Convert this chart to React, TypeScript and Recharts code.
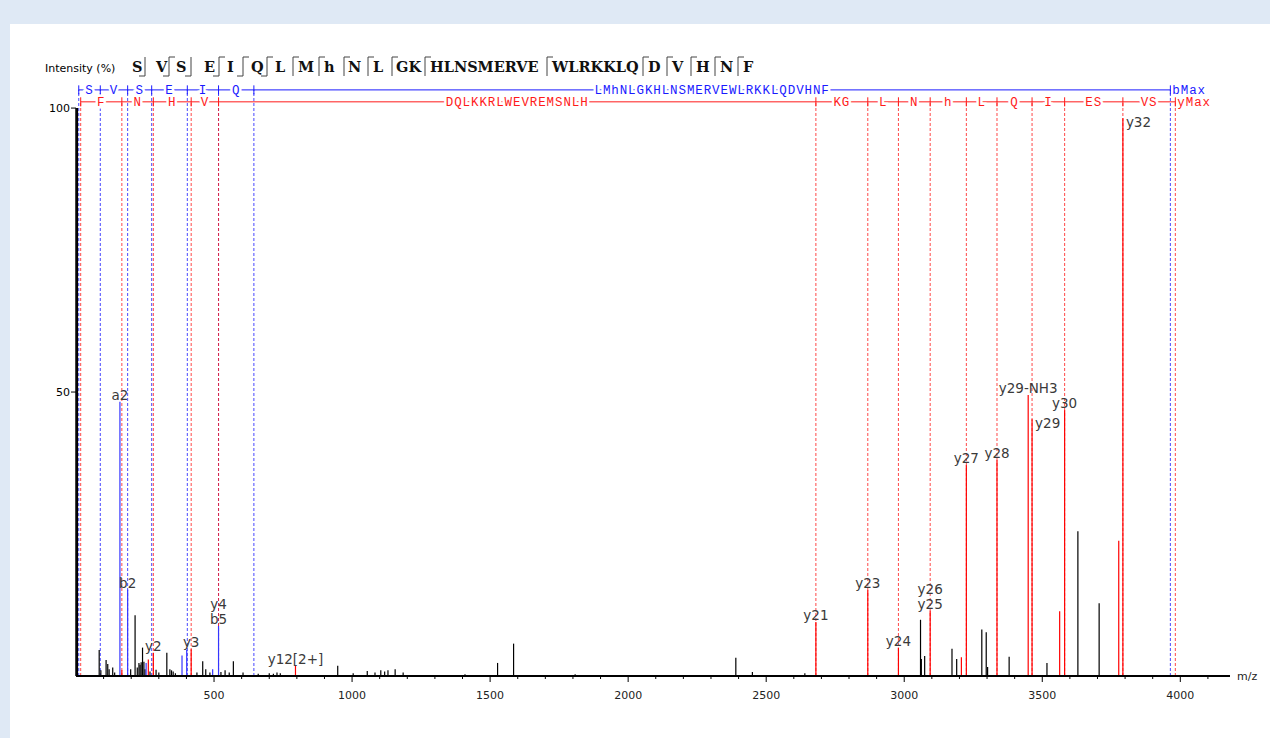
import { ComposedChart, XAxis, YAxis, ReferenceLine, ReferenceDot, Scatter } from "recharts"

// peaks: [m/z, intensity %]
const otherPeaks: [number, number][] = [
    [4, 100], [84, 4.6], [90, 1.0], [109, 2.8], [115, 2.1], [120, 1.2], [133, 1.5], [140, 0.6],
    [198, 1.2], [214, 10.7], [222, 1.5], [228, 2.3], [232, 2.0], [236, 2.4], [241, 5.0], [246, 2.5],
    [250, 1.2], [268, 0.8], [290, 1.1], [300, 0.6], [329, 4.1], [340, 1.2], [346, 1.0], [352, 0.8],
    [360, 0.5], [438, 0.6], [459, 2.6], [470, 1.2], [485, 0.6], [525, 0.7], [540, 1.0], [555, 0.6],
    [570, 2.6], [605, 0.6], [660, 0.4], [700, 0.5], [715, 0.4], [728, 0.6], [740, 0.5], [948, 1.8],
    [1004, 0.5], [1055, 0.9], [1083, 0.6], [1104, 1.0], [1118, 0.8], [1130, 1.0], [1156, 1.2],
    [1185, 0.6], [1409, 0.3], [1527, 2.3], [1585, 5.7], [1808, 0.3], [2390, 3.2], [2450, 0.7],
    [2640, 0.5], [3059, 9.9], [3062, 3.0], [3074, 3.5], [3173, 4.8], [3190, 3.0], [3281, 8.2],
    [3297, 7.7], [3302, 1.6], [3380, 3.4], [3517, 2.3], [3629, 25.5], [3706, 12.8],
]

const bIonPeaks: [number, number][] = [
    [159.1, 48.3], [187.1, 15.2], [254, 2.3], [384, 3.6], [401, 4.6], [495, 1.2], [516.3, 8.8],
]

const yIonPeaks: [number, number][] = [
    [166.1, 1.0], [262, 2.9], [280.1, 4.1], [417.2, 4.7], [795, 1.8], [2680, 9.5], [2868, 15.1],
    [2979, 5.0], [3094, 11.5], [3207, 3.3], [3225, 37.1], [3336, 38.0], [3449, 49.5], [3463, 45.2],
    [3563, 11.4], [3581, 46.8], [3777, 23.8], [3792, 98.2],
]

// annotations: [m/z, intensity, text, placement]
const peakLabels: [number, number, string, string][] = [
    [159.1, 48.3, 'a2', 'top'],
    [187.1, 15.2, 'b2', 'top'],
    [280.1, 4.1, 'y2', 'top'],
    [417.2, 4.7, 'y3', 'top'],
    [516.3, 8.8, 'b5', 'top'],
    [516.3, 8.8, 'y4', 'top2'],
    [795, 1.8, 'y12[2+]', 'top'],
    [2680, 9.5, 'y21', 'top'],
    [2868, 15.1, 'y23', 'top'],
    [2979, 5.0, 'y24', 'top'],
    [3094, 11.5, 'y25', 'top'],
    [3094, 11.5, 'y26', 'top2'],
    [3225, 37.1, 'y27', 'top'],
    [3336, 38.0, 'y28', 'top'],
    [3449, 49.5, 'y29-NH3', 'top'],
    [3463, 45.2, 'y29', 'right'],
    [3581, 46.8, 'y30', 'top'],
    [3792, 98.2, 'y32', 'right'],
]

// fragment ladders
const bLadderMz = [10, 88.0, 187.1, 274.1, 403.2, 516.3, 644.3, 3964]
const bLadderRes = ['S', 'V', 'S', 'E', 'I', 'Q', 'LMhNLGKHLNSMERVEWLRKKLQDVHNF']
const yLadderMz = [17, 166.1, 280.1, 417.2, 516.3, 2680, 2868, 2979, 3094, 3225, 3336, 3463, 3581, 3792, 3982]
const yLadderRes = ['F', 'N', 'H', 'V', 'DQLKKRLWEVREMSNLH', 'KG', 'L', 'N', 'h', 'L', 'Q', 'I', 'ES', 'VS']

// sequence header and cleavage marks after each group
const seqGroups = ['S', 'V', 'S', 'E', 'I', 'Q', 'L', 'M', 'h', 'N', 'L', 'GK', 'HLNSMERVE', 'WLRKKLQ', 'D', 'V', 'H', 'N', 'F']
const seqMarks = ['b', 'by', 'b', 'by', 'by', 'by', 'y', 'y', 'y', 'y', 'y', 'y', 'y', 'y', 'y', 'y', 'y', 'y']

const xTicks = [100, 200, 300, 400, 500, 600, 700, 800, 900, 1000, 1100, 1200, 1300, 1400, 1500, 1600,
    1700, 1800, 1900, 2000, 2100, 2200, 2300, 2400, 2500, 2600, 2700, 2800, 2900, 3000, 3100, 3200,
    3300, 3400, 3500, 3600, 3700, 3800, 3900, 4000, 4100]
const majorTicks = [500, 1000, 1500, 2000, 2500, 3000, 3500, 4000]

const BLUE = "#1a1aff"
const RED = "#ff1a1a"
const B_ROW = 103.2
const Y_ROW = 101.1
const SANS = "DejaVu Sans"
const MONO = "Liberation Mono"

// header layout (px): group starts and mark positions
const seqX = [132, 156, 176, 204, 227, 251, 275, 298, 324, 348, 373, 396, 430, 552, 648, 672, 696, 720, 743]
const markX = [145, 169, 191, 219, 243, 267, 293, 319, 344, 368, 392, 425, 547, 643, 667, 691, 715, 738]

function XTick(props: any) {
    const { x, y, payload } = props
    const major = majorTicks.includes(payload.value)
    return (
        <g>
            <line x1={x} x2={x} y1={y} y2={y + (major ? 6 : 3)} stroke="#000" />
            {major && (
                <text x={x} y={y + 23} textAnchor="middle" fontSize={11} fill="#222" fontFamily={SANS}>
                    {payload.value}
                </text>
            )}
        </g>
    )
}

function peakLine(p: [number, number], color: string, key: string, w = 1.2) {
    return (
        <ReferenceLine key={key} segment={[{ x: p[0], y: 0 }, { x: p[0], y: p[1] }]} stroke={color} strokeWidth={w} />
    )
}

function ladder(mz: number[], res: string[], row: number, color: string, tag: string, maxText: string) {
    const out: any[] = []
    out.push(
        <ReferenceLine key={tag + "h"} segment={[{ x: mz[0], y: row }, { x: mz[mz.length - 1], y: row }]} stroke={color} strokeWidth={1} />
    )
    mz.forEach((m, i) => {
        out.push(
            <ReferenceLine key={tag + "d" + i} segment={[{ x: m, y: 0 }, { x: m, y: row }]} stroke={color} strokeOpacity={0.8} strokeDasharray="3 2" strokeWidth={1} />
        )
        out.push(
            <ReferenceLine key={tag + "t" + i} segment={[{ x: m, y: row - 0.8 }, { x: m, y: row + 0.8 }]} stroke={color} strokeWidth={1} />
        )
    })
    res.forEach((r, i) => {
        out.push(
            <ReferenceDot key={tag + "r" + i} x={(mz[i] + mz[i + 1]) / 2} y={row} r={0}
                shape={(p: any) => (
                    <text x={p.cx} y={p.cy + 4} textAnchor="middle" fontSize={12.5} letterSpacing={0.9} fontFamily={MONO} fill={color}
                        stroke="#fff" strokeWidth={5} style={{ paintOrder: "stroke" }}>{r}</text>
                )} />
        )
    })
    out.push(
        <ReferenceDot key={tag + "max"} x={mz[mz.length - 1]} y={row} r={0}
            shape={(p: any) => (
                <text x={p.cx + 2} y={p.cy + 4} fontSize={12.5} letterSpacing={0.9} fontFamily={MONO} fill={color}>{maxText}</text>
            )} />
    )
    return out
}

function Header() {
    return (
        <svg width={1270} height={80} style={{ position: "absolute", left: 0, top: 0 }}>
            <text x={45} y={72} fontSize={11} fontFamily={SANS} fill="#000">Intensity (%)</text>
            {seqGroups.map((g, i) => (
                <text key={"g" + i} x={seqX[i]} y={72} fontSize={14.5} fontWeight="bold" fontFamily="DejaVu Serif" fill="#111">{g}</text>
            ))}
            {seqMarks.map((m, i) => {
                const x = markX[i]
                return (
                    <g key={"m" + i} stroke="#444" strokeWidth={1}>
                        <line x1={x} x2={x} y1={57} y2={76} />
                        {m.includes("b") && <line x1={x - 6} x2={x} y1={76} y2={76} />}
                        {m.includes("y") && <line x1={x} x2={x + 6} y1={57} y2={57} />}
                    </g>
                )
            })}
        </svg>
    )
}

export default function App() {
    return (
        <div style={{ position: "absolute", left: 0, top: 0, width: 1270, height: 738, background: "#dfe9f5" }}>
            <div style={{ position: "absolute", left: 10, top: 24, width: 1260, height: 714, background: "#fff" }} />
            <div style={{ position: "absolute", left: 0, top: 0 }}>
                <ComposedChart width={1270} height={738} margin={{ top: 74, right: 40, bottom: 32, left: 0 }}>
                    <XAxis type="number" dataKey="x" domain={[0, 4180]} ticks={xTicks} interval={0}
                        tickSize={0} tickMargin={0} tick={<XTick />} tickLine={false}
                        axisLine={{ stroke: "#000", strokeWidth: 2 }} height={30} allowDataOverflow />
                    <YAxis type="number" dataKey="y" domain={[0, 106]} ticks={[50, 100]} width={76}
                        axisLine={false} tickSize={5} tickMargin={1} tickLine={{ stroke: "#000" }}
                        tick={{ fontSize: 11, fill: "#000", fontFamily: SANS }} allowDataOverflow />
                    <Scatter data={otherPeaks.map(p => ({ x: p[0], y: p[1] }))} shape={() => null} isAnimationActive={false} />
                    {ladder(bLadderMz, bLadderRes, B_ROW, BLUE, "b", "bMax")}
                    {ladder(yLadderMz, yLadderRes, Y_ROW, RED, "y", "yMax")}
                    <ReferenceLine segment={[{ x: 0, y: 0 }, { x: 0, y: 100 }]} stroke="#000" strokeWidth={1.5} />
                    {otherPeaks.map((p, i) => peakLine(p, "#000", "k" + i, i === 0 ? 2 : 1.2))}
                    {bIonPeaks.map((p, i) => peakLine(p, "#3535ff", "bp" + i))}
                    {yIonPeaks.map((p, i) => peakLine(p, "#ff0000", "yp" + i))}
                    {peakLabels.map((l, i) => (
                        <ReferenceDot key={"l" + i} x={l[0]} y={l[1]} r={0}
                            shape={(p: any) => {
                                const right = l[3] === "right"
                                const tx = right ? p.cx + 3 : p.cx
                                const ty = right ? p.cy + 9 : l[3] === "top2" ? p.cy - 17 : p.cy - 2
                                return (
                                    <text x={tx} y={ty} textAnchor={right ? "start" : "middle"} fontSize={13.5}
                                        fontFamily={SANS} fill="#3a3a3a">{l[2]}</text>
                                )
                            }} />
                    ))}
                </ComposedChart>
            </div>
            <Header />
            <div style={{ position: "absolute", left: 1237, top: 670, fontSize: 11, fontFamily: SANS, color: "#222" }}>m/z</div>
        </div>
    )
}
